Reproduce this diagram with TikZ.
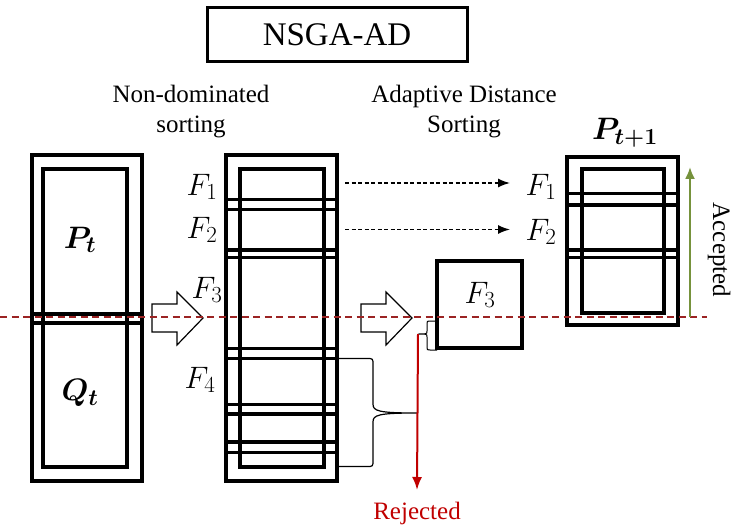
\RequirePackage{fix-cm}
\documentclass[tikz,border=0pt]{standalone}
\usepackage{bm}
\usepackage{fontspec}
\setmainfont{Liberation Serif}
\usetikzlibrary{arrows.meta}
\DeclareMathSizes{31}{31}{23}{17}
\definecolor{rejred}{RGB}{192,0,0}
\definecolor{lineRed}{RGB}{155,35,35}
\definecolor{accgreen}{RGB}{118,146,60}
\begin{document}
\begin{tikzpicture}[x=1pt,y=-1pt,
  thickbox/.style={draw, line width=3.6pt, inner sep=0pt, outer sep=0pt},
  band/.style={line width=3.6pt},
  blockarrow/.style={draw, fill=white, line width=1.2pt, line join=miter},
  lbl/.style={font=\fontsize{25}{30}\selectfont, inner sep=0pt, align=center},
  mlbl/.style={font=\fontsize{31}{34}\selectfont, inner sep=0pt},
  brace/.style={line width=1.2pt},
  dasharrow/.style={line width=1.5pt, dash pattern=on 4pt off 2.5pt, -{Latex[length=12pt,width=9pt]}},
  midline/.style={draw=lineRed, line width=1.2pt, dash pattern=on 7pt off 4.5pt}
]
\useasboundingbox (0,0) rectangle (735,529);

% title
\node[thickbox, line width=3pt, minimum width=260pt, minimum height=54pt,
  font=\fontsize{33}{36}\selectfont] (title) at (337,34.5) {NSGA-AD};

\node[lbl] (nds) at (191,112) {Non-dominated\\sorting};
\node[lbl] (ads) at (464,112) {Adaptive Distance\\Sorting};

% left column P_t / Q_t
\node[thickbox, minimum width=110pt, minimum height=326pt] (pqout) at (87,318) {};
\node[thickbox, minimum width=84pt, minimum height=298pt] (pqin) at (85,318) {};
\foreach \yy in {314,323} \draw[band] (pqout.west |- 0,\yy) -- (pqout.east |- 0,\yy);
\node[mlbl] (pt) at (80,240) {$\bm{P_t}$};
\node[mlbl] (qt) at (80,393) {$\bm{Q_t}$};

% middle column (fronts)
\node[thickbox, minimum width=111pt, minimum height=326pt] (ndout) at (281.5,318) {};
\node[thickbox, minimum width=84pt, minimum height=298pt] (ndin) at (282,318) {};
\foreach \yy in {199.5,209.5,250,257.5,348.5,358.5,404.5,414,442,452.5}
  \draw[band] (ndout.west |- 0,\yy) -- (ndout.east |- 0,\yy);
\node[mlbl] (f1) at (202,187) {$F_1$};
\node[mlbl] (f2) at (202,230) {$F_2$};
\node[mlbl] (f3) at (207,290) {$F_3$};
\node[mlbl] (f4) at (200,380) {$F_4$};

% block arrows
\draw[blockarrow] (152,304) -- (177,304) -- (177,292) -- (203,318) -- (177,345) -- (177,332) -- (152,332) -- cycle;
\draw[blockarrow] (361,304) -- (386,304) -- (386,292) -- (412,318) -- (386,345) -- (386,332) -- (361,332) -- cycle;

% F3 box
\node[thickbox, minimum width=85pt, minimum height=87pt] (f3box) at (479.5,304.5) {};
\node[mlbl] (f3in) at (480,295) {$F_3$};

% dashed arrows to P_{t+1}
\coordinate (d1s) at (345,183);
\coordinate (d1e) at (510,183);
\coordinate (d2s) at (345,229.5);
\coordinate (d2e) at (510,229.5);
\node[mlbl] (rf1) at (541,187) {$F_1$};
\node[mlbl] (rf2) at (541,232) {$F_2$};
\draw[dasharrow] (d1s) -- (d1e);
\draw[dasharrow] (d2s) -- (d2e);

% P_{t+1} column
\node[thickbox, minimum width=111pt, minimum height=168pt] (ptout) at (622.5,241) {};
\node[thickbox, minimum width=82pt, minimum height=144pt] (ptin) at (623,241) {};
\foreach \yy in {193.5,205,250,257.5}
  \draw[band] (ptout.west |- 0,\yy) -- (ptout.east |- 0,\yy);
\node[mlbl] (pt1) at (625,133) {$\bm{P_{t+1}}$};

% big brace
\coordinate (btip) at (417,413);
\draw[brace] (ndout.east |- 0,358.5) -- (367,358.5) .. controls (373,358.5) .. (373,365)
  -- (373,404) .. controls (373,411) and (378,413) .. (btip)
  .. controls (378,413) and (373,415) .. (373,422) -- (373,460)
  .. controls (373,466.5) .. (367,466.5) -- (ndout.east |- 0,466.5);

% small brace on F3
\coordinate (stip) at (418,334);
\draw[line width=1pt] (f3box.west |- 0,321) -- (430,321) .. controls (427,321) .. (427,324) -- (427,331)
  .. controls (427,334) .. (stip) .. controls (427,334) .. (427,337) -- (427,347)
  .. controls (427,350) .. (430,350) -- (f3box.west |- 0,350);

% rejected
\node[lbl, text=rejred] (rej) at (417,513) {Rejected};
\draw[rejred, line width=2pt, -{Latex[length=13pt,width=10pt]}] (stip) -- (417,490);

% dashed mid line
\coordinate (ml) at (0,317);
\coordinate (mr) at (707,317);
\draw[midline] (ml) -- (mr);

% accepted
\coordinate (acc0) at (690,317);
\coordinate (acc1) at (690,167);
\draw[accgreen, line width=2pt, -{Latex[length=12pt,width=10pt]}] (acc0) -- (acc1);
\node[lbl, rotate=-90] (acc) at (719,250) {Accepted};
\end{tikzpicture}
\end{document}
